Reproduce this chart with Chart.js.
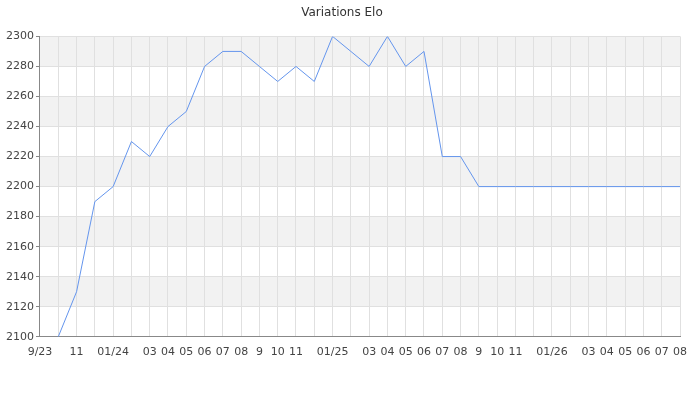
<!DOCTYPE html>
<html>
<head>
<meta charset="utf-8">
<script src="https://cdn.jsdelivr.net/npm/chart.js@4/dist/chart.umd.min.js"></script>
<style>
  html, body { margin: 0; padding: 0; background: #fff; }
  #wrap { width: 700px; height: 400px; }
</style>
</head>
<body>
<div id="wrap"><canvas id="elo"></canvas></div>
<script>
// months 9/23 .. 08/26
const months = ['9/23', '10', '11', '12', '01/24', '02', '03', '04', '05', '06', '07', '08',
                '9', '10', '11', '12', '01/25', '02', '03', '04', '05', '06', '07', '08',
                '9', '10', '11', '12', '01/26', '02', '03', '04', '05', '06', '07', '08'];
// labels actually printed under the axis (others left blank)
const tickLabels = ['9/23', '', '11', '', '01/24', '', '03', '04', '05', '06', '07', '08',
                    '9', '10', '11', '', '01/25', '', '03', '04', '05', '06', '07', '08',
                    '9', '10', '11', '', '01/26', '', '03', '04', '05', '06', '07', '08'];
const elo = [null, 2100, 2130, 2190, 2200, 2230, 2220, 2240, 2250, 2280, 2290, 2290,
             2280, 2270, 2280, 2270, 2300, 2290, 2280, 2300, 2280, 2290, 2220, 2220,
             2200, 2200, 2200, 2200, 2200, 2200, 2200, 2200, 2200, 2200, 2200, 2200];
const yMin = 2100, yMax = 2300, yStep = 20;

// alternating grey bands between the major y gridlines
const bandPlugin = {
    id: 'bands',
    beforeDraw(chart) {
        const { ctx, chartArea, scales } = chart;
        ctx.save();
        ctx.fillStyle = '#f2f2f2';
        for (let v = yMax; v > yMin; v -= 2 * yStep) {
            const top = scales.y.getPixelForValue(v);
            const bot = scales.y.getPixelForValue(v - yStep);
            ctx.fillRect(chartArea.left, top, chartArea.right - chartArea.left, bot - top);
        }
        ctx.restore();
    }
};

Chart.defaults.font.family = '"DejaVu Sans", sans-serif';
Chart.defaults.font.size = 11;
Chart.defaults.color = '#444';

new Chart(document.getElementById('elo'), {
    type: 'line',
    data: {
        labels: months,
        datasets: [{
            label: 'Elo',
            data: elo,
            borderColor: '#6495ed',
            borderWidth: 1,
            pointRadius: 0,
            tension: 0,
            fill: false
        }]
    },
    plugins: [bandPlugin],
    options: {
        responsive: true,
        maintainAspectRatio: false,
        animation: false,
        layout: { padding: { left: 4, right: 20, top: 0, bottom: 32 } },
        plugins: {
            legend: { display: false },
            tooltip: { enabled: false },
            title: {
                display: true,
                text: 'Variations Elo',
                color: '#333',
                font: { size: 12, weight: 'normal' },
                padding: { top: 6, bottom: 16 }
            }
        },
        scales: {
            x: {
                offset: false,
                border: { color: '#888' },
                grid: { color: '#e0e0e0', drawTicks: false },
                ticks: {
                    autoSkip: false,
                    maxRotation: 0,
                    padding: 9,
                    callback: (v, i) => tickLabels[i]
                }
            },
            y: {
                min: yMin,
                max: yMax,
                border: { color: '#888' },
                grid: {
                    color: c => (c.tick && c.tick.value % yStep === 0) ? '#e0e0e0' : 'rgba(0,0,0,0)',
                    tickColor: '#888',
                    tickLength: 4
                },
                ticks: {
                    stepSize: 10,
                    padding: 2,
                    callback: v => (v % yStep === 0 ? v : '')
                }
            }
        }
    }
});
</script>
</body>
</html>
